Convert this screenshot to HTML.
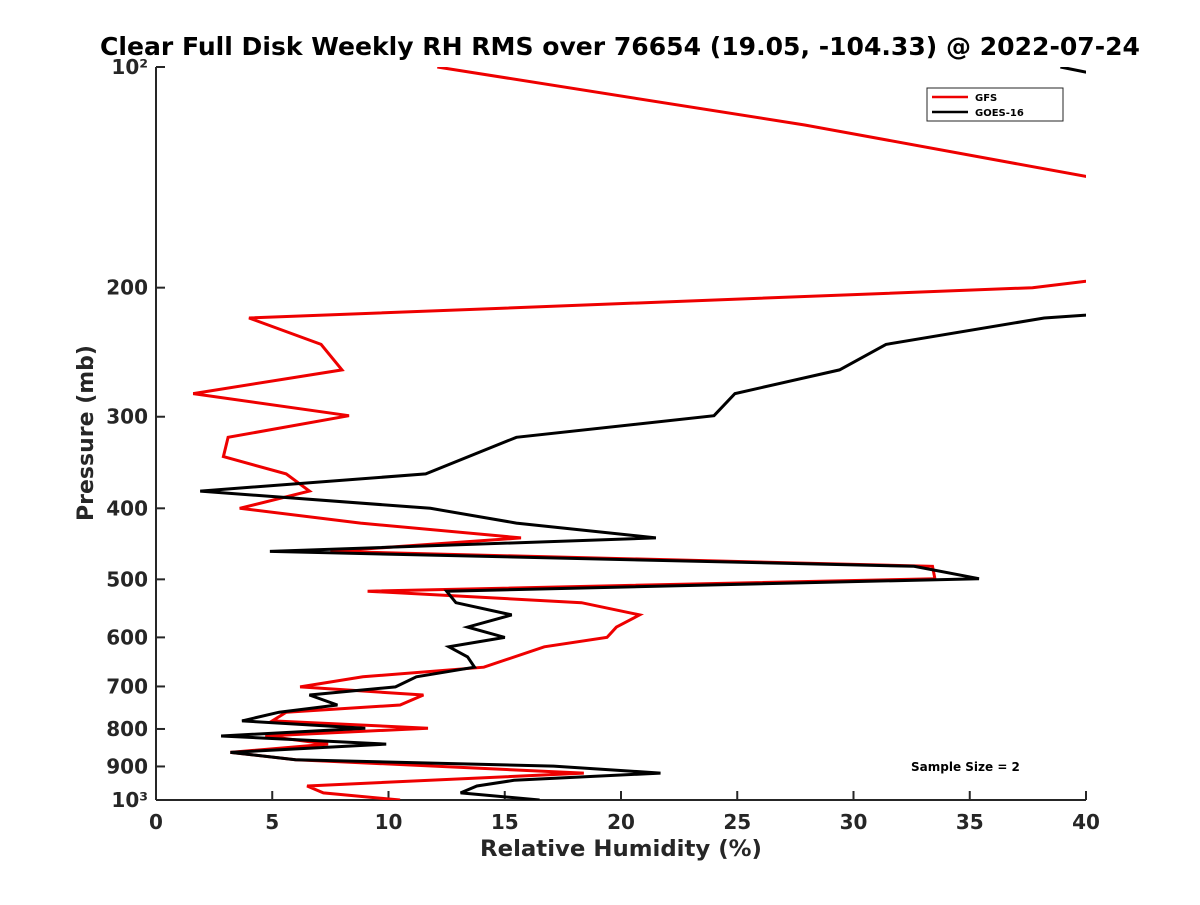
<!DOCTYPE html>
<html><head><meta charset="utf-8"><style>
body{margin:0;background:#fff}
svg text{font-family:"DejaVu Sans","Liberation Sans",sans-serif;font-weight:bold;fill:#262626}
</style></head><body>
<svg width="1200" height="900" id="chart">
<defs><clipPath id="pa"><rect x="156" y="67" width="930" height="733"/></clipPath></defs>
<text x="620" y="55" text-anchor="middle" font-size="25" textLength="1040" lengthAdjust="spacingAndGlyphs" style="fill:#000">Clear Full Disk Weekly RH RMS over 76654 (19.05, -104.33) @ 2022-07-24</text>
<g id="axes"></g>
<g id="series" clip-path="url(#pa)"></g>
<text x="621" y="856" text-anchor="middle" font-size="22.5" textLength="282" lengthAdjust="spacingAndGlyphs">Relative Humidity (%)</text>
<text transform="translate(93,433) rotate(-90)" text-anchor="middle" font-size="22">Pressure (mb)</text>
<g>
<rect x="927" y="88" width="136" height="33" fill="#fff" stroke="#262626" stroke-width="1"/>
<line x1="932" y1="97" x2="968" y2="97" stroke="#e00" stroke-width="2.5"/>
<text x="975" y="101" font-size="10" style="fill:#000">GFS</text>
<line x1="932" y1="112" x2="968" y2="112" stroke="#000" stroke-width="2.5"/>
<text x="975" y="116" font-size="10" style="fill:#000">GOES-16</text>
</g>
<text x="911" y="771" font-size="12" style="fill:#000">Sample Size = 2</text>
</svg>
<script>
const xTicks=[0,5,10,15,20,25,30,35,40];
const yTicks=[100,200,300,400,500,600,700,800,900,1000];
const yTickLabels=["10²","200","300","400","500","600","700","800","900","10³"];
const gfsP=[100,120,141,167,196,200,220,239,259,279,299,320,340,359,379,400,419,439,458,480,499,519,538,559,581,600,618,659,679,701,719,742,759,780,798,818,839,861,881,919,957,978,1000];
const gfsRH=[12.1,27.9,40,55,40,37.7,4.0,7.1,8.0,1.6,8.3,3.1,2.9,5.6,6.6,3.6,8.8,15.7,7.5,33.4,33.5,9.1,18.3,20.8,19.8,19.4,16.7,14.1,8.9,6.2,11.5,10.5,5.6,5.0,11.7,4.7,7.4,3.2,6.0,18.4,6.5,7.2,10.5];
const goesP=[100,101.6,150,218,220,239,259,279,299,320,359,379,400,419,439,458,480,499,519,538,559,581,600,618,638,659,679,701,719,742,759,780,798,818,839,861,881,899,919,940,957,978,1000];
const goesRH=[38.9,40,60,40,38.2,31.4,29.4,24.9,24.0,15.5,11.6,1.9,11.8,15.5,21.5,4.9,32.6,35.4,12.5,12.9,15.3,13.4,15.0,12.6,13.4,13.7,11.2,10.3,6.6,7.8,5.3,3.7,9.0,2.8,9.9,3.2,6.0,17.1,21.7,15.4,13.8,13.1,16.5];
const X0=156,X1=1086,Y0=67,Y1=800;
const xs=v=>X0+(v-0)/40*(X1-X0);
const ys=p=>Y0+(Math.log10(p)-2)*(Y1-Y0);
const NS='http://www.w3.org/2000/svg';
function mk(t,a,parent){const e=document.createElementNS(NS,t);for(const k in a)e.setAttribute(k,a[k]);parent.appendChild(e);return e;}
const ax=document.getElementById('axes');
const yl=mk('line',{x1:X0,y1:Y0,x2:X0,y2:Y1,stroke:'#262626','stroke-width':2},ax);


const xl=mk('line',{x1:X0,y1:Y1,x2:X1,y2:Y1,stroke:'#262626','stroke-width':2},ax);


xTicks.forEach(v=>{
 const x=xs(v);
 mk('line',{x1:x,y1:Y1,x2:x,y2:Y1-9,stroke:'#262626','stroke-width':2},ax);
 const t=mk('text',{x:x,y:Y1+29,'text-anchor':'middle','font-size':20},ax);t.textContent=v;
 
 
});
yTicks.forEach((p,i)=>{
 const y=ys(p);
 mk('line',{x1:X0,y1:y,x2:X0+9,y2:y,stroke:'#262626','stroke-width':2},ax);
 const t=mk('text',{x:X0-8,y:y+7,'text-anchor':'end','font-size':20},ax);t.textContent=yTickLabels[i];
 
 
});
const sg=document.getElementById('series');
function line(P,R,c,name){
 const pts=P.map((p,i)=>xs(R[i]).toFixed(1)+','+ys(p).toFixed(1)).join(' ');
 const e=mk('polyline',{points:pts,fill:'none',stroke:c,'stroke-width':3,'stroke-linejoin':'miter'},sg);
 
 
}
line(gfsP,gfsRH,'#e00','gfs-line');
line(goesP,goesRH,'#000','goes16-line');
</script>
</body></html>
